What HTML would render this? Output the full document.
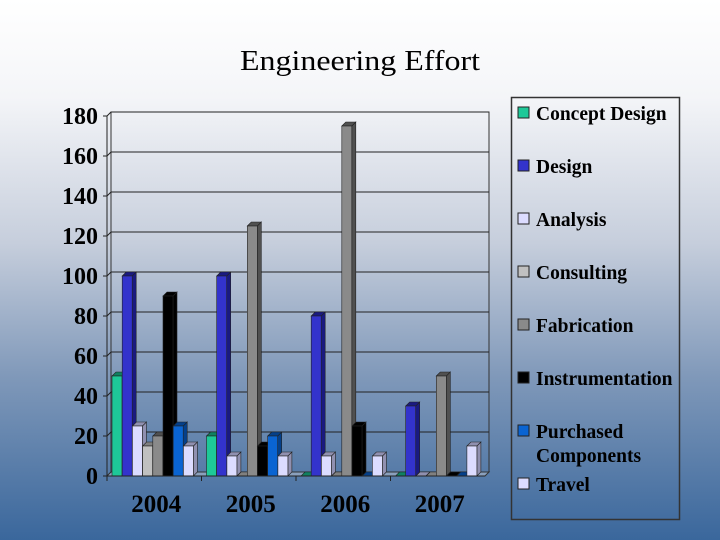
<!DOCTYPE html>
<html><head><meta charset="utf-8"><style>
html,body{margin:0;padding:0;}
body{width:720px;height:540px;overflow:hidden;background:linear-gradient(#ffffff 0%,#f4f5f8 18%,#c6cedc 45%,#7f98b9 70%,#3a679c 100%);}
svg{display:block;}
</style></head><body>
<svg id="chart" width="720" height="540" xmlns="http://www.w3.org/2000/svg" font-family="'Liberation Serif', serif">
<text x="360" y="70" text-anchor="middle" font-size="29" textLength="240" lengthAdjust="spacingAndGlyphs">Engineering Effort</text>
<g id="grid"></g>
<g id="bars"></g>
<g id="axes"></g>
<g id="legend"></g>
</svg>
<script>
const categories = ["2004","2005","2006","2007"];
const seriesNames = ["Concept Design","Design","Analysis","Consulting","Fabrication","Instrumentation","Purchased Components","Travel"];
const conceptDesign = [50,20,0,0];
const design = [100,100,80,35];
const analysis = [25,10,10,0];
const consulting = [15,0,0,0];
const fabrication = [20,125,175,50];
const instrumentation = [90,15,25,0];
const purchased = [25,20,0,0];
const travel = [15,10,10,15];
const yTicks = [0,20,40,60,80,100,120,140,160,180];

const series = [conceptDesign,design,analysis,consulting,fabrication,instrumentation,purchased,travel];
const colors = ["#1ec898","#3333cc","#dcdcff","#c0c0c0","#8a8a8a","#000000","#0a64d2","#dcdcff"];
const sides = ["#108060","#1a1a80","#9090b0","#808080","#505050","#000000","#05408a","#9090b0"];
const NS="http://www.w3.org/2000/svg";
const X0=107, X1=485, Y0=476, D=4;
const yScale=v=>Y0-v*2;
const catW=(X1-X0)/categories.length;
function mk(tag,attrs,parent){const e=document.createElementNS(NS,tag);for(const k in attrs)e.setAttribute(k,attrs[k]);parent.appendChild(e);return e;}
const grid=document.getElementById('grid'),bars=document.getElementById('bars'),axes=document.getElementById('axes'),legend=document.getElementById('legend');
const wall=mk('polygon',{points:`${X0+D},${yScale(180)-D} ${X1+D},${yScale(180)-D} ${X1+D},${Y0-D} ${X0+D},${Y0-D}`,fill:'none',stroke:'#333','stroke-width':1},grid);


yTicks.forEach(t=>{
  const y=yScale(t);
  const l=mk('line',{x1:X0+D,y1:y-D,x2:X1+D,y2:y-D,stroke:'#222','stroke-width':1},grid);
  
  
  const s=mk('line',{x1:X0,y1:y,x2:X0+D,y2:y-D,stroke:'#222','stroke-width':1},grid);
  
  
  const tk=mk('line',{x1:X0-4,y1:y,x2:X0,y2:y,stroke:'#222'},axes);
  
  
  const tx=mk('text',{x:98,y:y+8,'text-anchor':'end','font-size':24,'font-weight':'bold'},axes);
  tx.textContent=t;
  
  
});
const floor=mk('polygon',{points:`${X0},${Y0} ${X1},${Y0} ${X1+D},${Y0-D} ${X0+D},${Y0-D}`,fill:'#8aa0bd',stroke:'#333','stroke-width':1},grid);


mk('line',{x1:X0,y1:yScale(180),x2:X0,y2:Y0,stroke:'#222'},axes);
mk('line',{x1:X0,y1:Y0,x2:X1,y2:Y0,stroke:'#222'},axes);
categories.forEach((c,ci)=>{
  const tk=mk('line',{x1:X0+ci*catW,y1:Y0,x2:X0+ci*catW,y2:Y0+5,stroke:'#222'},axes);
  
  
  const tx=mk('text',{x:X0+ci*catW+catW/2+2,y:512,'text-anchor':'middle','font-size':25,'font-weight':'bold'},axes);
  tx.textContent=c;
  
  
  series.forEach((vals,si)=>{
    const v=vals[ci];
    const x=X0+ci*catW+5+si*10.2, w=10, y=yScale(v), h=Y0-y;
    const g=mk('g',{},bars);
    
    
    mk('polygon',{points:`${x+w},${y} ${x+w+D},${y-D} ${x+w+D},${Y0-D} ${x+w},${Y0}`,fill:sides[si],stroke:'#222','stroke-width':0.6},g);
    mk('polygon',{points:`${x},${y} ${x+D},${y-D} ${x+w+D},${y-D} ${x+w},${y}`,fill:sides[si],stroke:'#222','stroke-width':0.6},g);
    mk('rect',{x:x,y:y,width:w,height:h,fill:colors[si],stroke:'#222','stroke-width':0.6},g);
  });
});
const lb=mk('rect',{x:511.5,y:97.5,width:168,height:422,fill:'none',stroke:'#333','stroke-width':1.5},legend);


const ly=[113,166,219,272,325,378,431,484];
seriesNames.forEach((n,i)=>{
  const g=mk('g',{},legend);
  
  
  mk('rect',{x:518,y:ly[i]-6,width:11,height:11,fill:colors[i],stroke:'#222','stroke-width':1},g);
  if(n==="Purchased Components"){
    const t1=mk('text',{x:536,y:ly[i]+7,'font-size':19.5,'font-weight':'bold'},g);t1.textContent="Purchased";
    const t2=mk('text',{x:536,y:ly[i]+31,'font-size':19.5,'font-weight':'bold'},g);t2.textContent="Components";
  } else {
    const t=mk('text',{x:536,y:ly[i]+7,'font-size':19.5,'font-weight':'bold'},g);t.textContent=n;
  }
});
</script>
</body></html>
